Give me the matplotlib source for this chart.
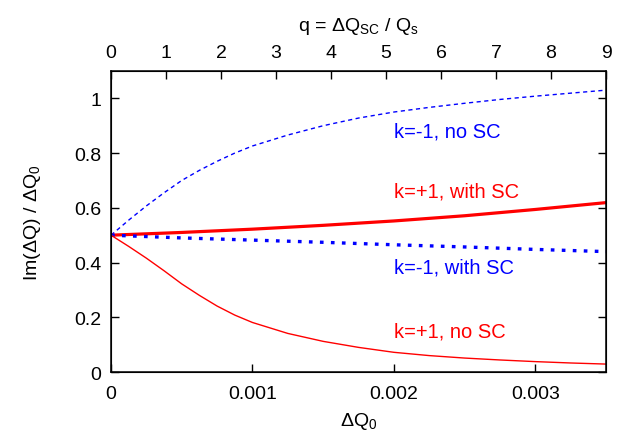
import numpy as np
import matplotlib
matplotlib.use('Agg')
import matplotlib.pyplot as plt

plt.rcParams['font.family'] = ['Liberation Sans', 'DejaVu Sans']
plt.rcParams['mathtext.fontset'] = 'custom'
plt.rcParams['mathtext.rm'] = 'Liberation Sans'
plt.rcParams['mathtext.it'] = 'Liberation Sans'
plt.rcParams['font.size'] = 14

# data
dq_fine = [0, 0.000125, 0.00025, 0.000375, 0.0005, 0.000625, 0.00075, 0.000875,
           0.001, 0.00125, 0.0015, 0.00175, 0.002, 0.00225, 0.0025, 0.00275,
           0.003, 0.00325, 0.0035]
km1_nosc = [0.5, 0.555, 0.607, 0.655, 0.70, 0.737, 0.77, 0.80,
            0.826, 0.866, 0.900, 0.928, 0.950, 0.967, 0.982, 0.996,
            1.008, 1.019, 1.030]
kp1_nosc = [0.5, 0.459, 0.416, 0.370, 0.322, 0.280, 0.241, 0.208,
            0.181, 0.141, 0.112, 0.090, 0.072, 0.060, 0.051, 0.044,
            0.038, 0.033, 0.029]

dq_coarse = [0, 0.0005, 0.001, 0.0015, 0.002, 0.0025, 0.003, 0.0035]
kp1_sc = [0.5, 0.51, 0.522, 0.536, 0.552, 0.571, 0.594, 0.619]
km1_sc = [0.5, 0.49, 0.482, 0.474, 0.465, 0.457, 0.448, 0.440]

x_ticks = [0, 0.001, 0.002, 0.003]
x_ticklabels = ['0', '0.001', '0.002', '0.003']
y_ticks = [0, 0.2, 0.4, 0.6, 0.8, 1]
y_ticklabels = ['0', '0.2', '0.4', '0.6', '0.8', '1']
q_ticks = list(range(10))

labels = [('k=-1, no SC', 0.88, 'blue'),
          ('k=+1, with SC', 0.662, 'red'),
          ('k=-1, with SC', 0.382, 'blue'),
          ('k=+1, no SC', 0.151, 'red')]

fig = plt.figure(figsize=(6.22, 4.35), dpi=100)
ax = fig.add_axes([0.1785, 0.1425, 0.7958, 0.692])

ax.plot(dq_fine, km1_nosc, color='blue', lw=1.0, dashes=(3, 2.5))
ax.plot(dq_coarse, kp1_sc, color='red', lw=2.3, solid_capstyle='butt')
ax.plot(dq_coarse, km1_sc, color='blue', lw=2.4, dashes=(1.1, 2.2))
ax.plot(dq_fine, kp1_nosc, color='red', lw=1.0)

for txt, yv, col in labels:
    ax.text(0.002, yv, txt, color=col, fontsize=14.5, ha='left', va='center')

ax.set_xlim(0, 0.0035)
ax.set_ylim(0, 1.1)
ax.set_xticks(x_ticks)
ax.set_xticklabels(x_ticklabels)
ax.set_yticks(y_ticks)
ax.set_yticklabels(y_ticklabels)
ax.tick_params(direction='in', length=6, width=1, top=True, right=True, pad=7)
ax.tick_params(axis='x', pad=9)
ax.set_xlabel(r'$\Delta$Q$_0$', labelpad=6)
ax.set_ylabel(r'Im($\Delta$Q) / $\Delta$Q$_0$', labelpad=22)
for s in ax.spines.values():
    s.set_linewidth(1.1)

ax2 = ax.twiny()
ax2.set_xlim(0, 9)
ax2.set_xticks(q_ticks)
ax2.tick_params(direction='in', length=6, width=1, pad=7)
ax2.set_xlabel(r'q = $\Delta$Q$_{SC}$ / Q$_s$', labelpad=10)

fig.savefig('out.png', dpi=100)
